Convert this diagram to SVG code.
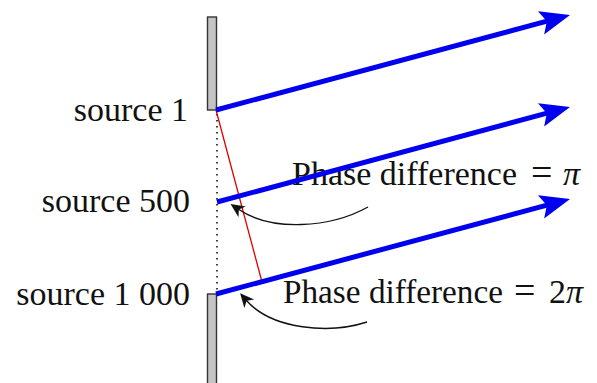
<svg xmlns="http://www.w3.org/2000/svg" width="597" height="383" viewBox="0 0 597 383">
<style>
.lbl{font-family:"Liberation Serif","Times New Roman",serif;font-size:34px;fill:#111}
.eq{font-size:38px}
.wall{fill:#c4c4c4;stroke:#333;stroke-width:1.4}
.ray{stroke:#0000ee;stroke-width:5;fill:none;marker-end:url(#bh)}
.curve{stroke:#111;stroke-width:1.4;fill:none;marker-end:url(#kh)}
</style>
<defs>
<marker id="bh" markerUnits="userSpaceOnUse" markerWidth="40" markerHeight="30" refX="12" refY="12" orient="auto" overflow="visible">
<path d="M2,0 L32,12 L2,24 L8,12 Z" fill="#0000ee"/>
</marker>
<marker id="kh" markerUnits="userSpaceOnUse" markerWidth="20" markerHeight="16" refX="5" refY="7" orient="auto" overflow="visible">
<path d="M0,0.5 L14,7 L0,13.5 L4,7 Z" fill="#111"/>
</marker>
</defs>
<g id="wall">
<rect class="wall" x="207.5" y="17" width="9" height="93"/>
<rect class="wall" x="207.5" y="294" width="9" height="95"/>
<line x1="217" y1="114" x2="217" y2="292" stroke="#111" stroke-width="1.6" stroke-dasharray="1.6 4.4"/>
</g>
<g id="source1">
<text class="lbl" x="188" y="121" text-anchor="end">source 1</text>
</g>
<g id="source500">
<text class="lbl" x="190" y="212" text-anchor="end">source 500</text>
</g>
<g id="source1000">
<text class="lbl" x="190" y="305" text-anchor="end">source 1 000</text>
</g>
<g id="label-pi">
<text class="lbl" y="185"><tspan x="292" textLength="225" lengthAdjust="spacingAndGlyphs">Phase difference</tspan><tspan x="531" class="eq">=</tspan><tspan x="563" font-style="italic">π</tspan></text>
</g>
<g id="label-2pi">
<text class="lbl" y="303"><tspan x="283" textLength="220" lengthAdjust="spacingAndGlyphs">Phase difference</tspan><tspan x="514" class="eq">=</tspan><tspan x="549">2</tspan><tspan x="566" font-style="italic">π</tspan></text>
</g>
<g id="connectors">
<line x1="216" y1="110" x2="262" y2="282" stroke="#e00000" stroke-width="1.3"/>
<line class="ray" x1="216" y1="110" x2="550.7" y2="20.2"/>
<line class="ray" x1="217" y1="202" x2="550.7" y2="112.2"/>
<line class="ray" x1="216" y1="294" x2="550.7" y2="204.2"/>
<path class="curve" d="M368,207 C330,228 272,232 238,209"/>
<path class="curve" d="M367,322 C330,334 272,330 246,300"/>
</g>
</svg>
